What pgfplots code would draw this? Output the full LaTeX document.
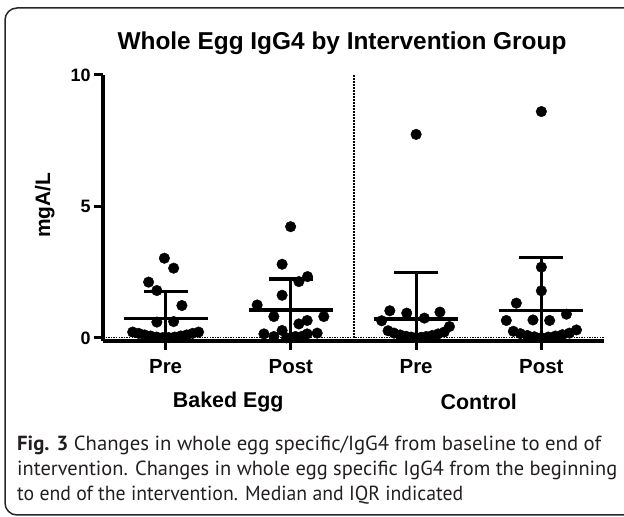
\documentclass[border=0pt]{standalone}
\usepackage{pgfplots}
\pgfplotsset{compat=1.18}
\usepackage{fontspec}
\setmainfont{Liberation Sans}
\newfontfamily\capfont{PT Sans}
\definecolor{captext}{HTML}{231F20}
\begin{document}
\begin{tikzpicture}
\draw[line width=1.5bp, rounded corners=12bp, black!85] (5bp,2bp) rectangle (640bp,509bp);
\node[anchor=base, font=\bfseries\fontsize{24.5}{24.5}\selectfont] at (342bp,467bp) {Whole Egg IgG4 by Intervention Group};
\begin{axis}[
  at={(103bp,176bp)}, anchor=south west,
  scale only axis, width=501bp, height=266bp,
  xmin=0.5, xmax=4.5, ymin=-0.12, ymax=10,
  axis x line*=bottom, axis y line*=left,
  axis line style={line width=3.5bp,-},
  xtick={1,2,3,4}, xticklabels={Pre,Post,Pre,Post},
  ytick={0,5,10},
  tick align=outside, major tick length=9bp,
  tick style={line width=3bp, black},
  /pgf/number format/assume math mode=true,
  yticklabel style={font=\bfseries\fontsize{18}{18}\selectfont},
  xticklabel style={font=\bfseries\fontsize{20.5}{20.5}\selectfont, yshift=-6bp},
  ylabel={mgA/L},
  ylabel style={at={(axis description cs:-0.116,0.511)}, anchor=center, font=\bfseries\fontsize{21}{21}\selectfont},
  clip=false,
]
% reference lines
\addplot[black, line width=1.3bp, dash pattern=on 1.3bp off 1.3bp] coordinates {(0.5,0) (4.5,0)};
\addplot[black, line width=2bp, dash pattern=on 1.5bp off 1.5bp] coordinates {(2.5,0) (2.5,10)};

% Baked Egg Pre
\addplot[only marks, mark=*, mark size=5.3bp, black] coordinates {
(0.99,3.03) (1.064,2.65) (0.864,2.12) (0.93,1.80) (1.13,1.23) (0.93,0.60) (1.064,0.62)
(0.737,0.22) (0.785,0.17) (0.832,0.11) (0.88,0.07) (0.928,0.03) (0.976,0.01)
(1.024,0.01) (1.072,0.03) (1.12,0.07) (1.168,0.11) (1.215,0.17) (1.263,0.22)};
% Baked Egg Post
\addplot[only marks, mark=*, mark size=5.3bp, black] coordinates {
(1.998,4.23) (1.93,2.80) (2.133,2.33) (2.064,2.14) (1.93,1.62) (1.731,1.25)
(1.864,0.81) (2.263,0.81) (2.064,0.53) (2.13,0.66)
(1.785,0.15) (1.864,0.05) (1.93,0.28) (1.966,0.0) (2.037,0.05) (2.13,0.15) (2.21,0.18) (2.09,0.06)};
% Control Pre
\addplot[only marks, mark=*, mark size=5.3bp, black] coordinates {
(3.0,7.74) (2.79,1.03) (2.925,0.94) (3.066,0.75) (3.19,0.98) (2.725,0.65) (3.266,0.43)
(2.776,0.27) (2.824,0.18) (2.872,0.11) (2.92,0.06) (2.96,0.03) (3.0,0.01)
(3.04,0.02) (3.08,0.05) (3.128,0.09) (3.176,0.15) (3.224,0.22)};
% Control Post
\addplot[only marks, mark=*, mark size=5.3bp, black] coordinates {
(4.0,8.61) (4.0,2.69) (4.0,1.79) (3.8,1.32) (4.2,0.90) (3.72,0.66) (3.933,0.68) (4.066,0.66) (4.28,0.30)
(3.776,0.25) (3.832,0.16) (3.888,0.09) (3.944,0.04) (4.0,0.01) (4.056,0.03) (4.112,0.07) (4.168,0.12) (4.224,0.18)};

% medians and IQR
\addplot[black, line width=3.2bp] coordinates {(0.665,0.75) (1.335,0.75)};
\addplot[black, line width=3.2bp] coordinates {(0.825,1.76) (1.175,1.76)};
\addplot[black, line width=3.2bp] coordinates {(1,0.05) (1,1.76)};

\addplot[black, line width=3.2bp] coordinates {(1.665,1.06) (2.335,1.06)};
\addplot[black, line width=3.2bp] coordinates {(1.825,2.24) (2.175,2.24)};
\addplot[black, line width=3.2bp] coordinates {(2,0.1) (2,2.24)};

\addplot[black, line width=3.2bp] coordinates {(2.665,0.72) (3.335,0.72)};
\addplot[black, line width=3.2bp] coordinates {(2.825,2.50) (3.175,2.50)};
\addplot[black, line width=3.2bp] coordinates {(3,0.05) (3,2.50)};

\addplot[black, line width=3.2bp] coordinates {(3.665,1.03) (4.335,1.03)};
\addplot[black, line width=3.2bp] coordinates {(3.825,3.07) (4.175,3.07)};
\addplot[black, line width=3.2bp] coordinates {(4,0.1) (4,3.07)};

\node[font=\bfseries\fontsize{21.5}{21.5}\selectfont] at (axis cs:1.5,-2.43) {Baked Egg};
\node[font=\bfseries\fontsize{21.5}{21.5}\selectfont] at (axis cs:3.5,-2.43) {Control};
\end{axis}
\node[anchor=base west, font=\capfont\fontsize{20.5}{20.5}\selectfont, text=captext, inner sep=0pt] at (17bp,66bp) {\resizebox{584bp}{\height}{\textbf{Fig. 3} Changes in whole egg specific/IgG4 from baseline to end of}};
\node[anchor=base west, font=\capfont\fontsize{20.5}{20.5}\selectfont, text=captext, inner sep=0pt] at (17bp,41bp) {\resizebox{600bp}{\height}{intervention. Changes in whole egg specific IgG4 from the beginning}};
\node[anchor=base west, font=\capfont\fontsize{20.5}{20.5}\selectfont, text=captext, inner sep=0pt] at (17bp,16bp) {\resizebox{446bp}{\height}{to end of the intervention. Median and IQR indicated}};
\pgfresetboundingbox
\useasboundingbox (0,0) rectangle (624bp,517bp);
\end{tikzpicture}
\end{document}
